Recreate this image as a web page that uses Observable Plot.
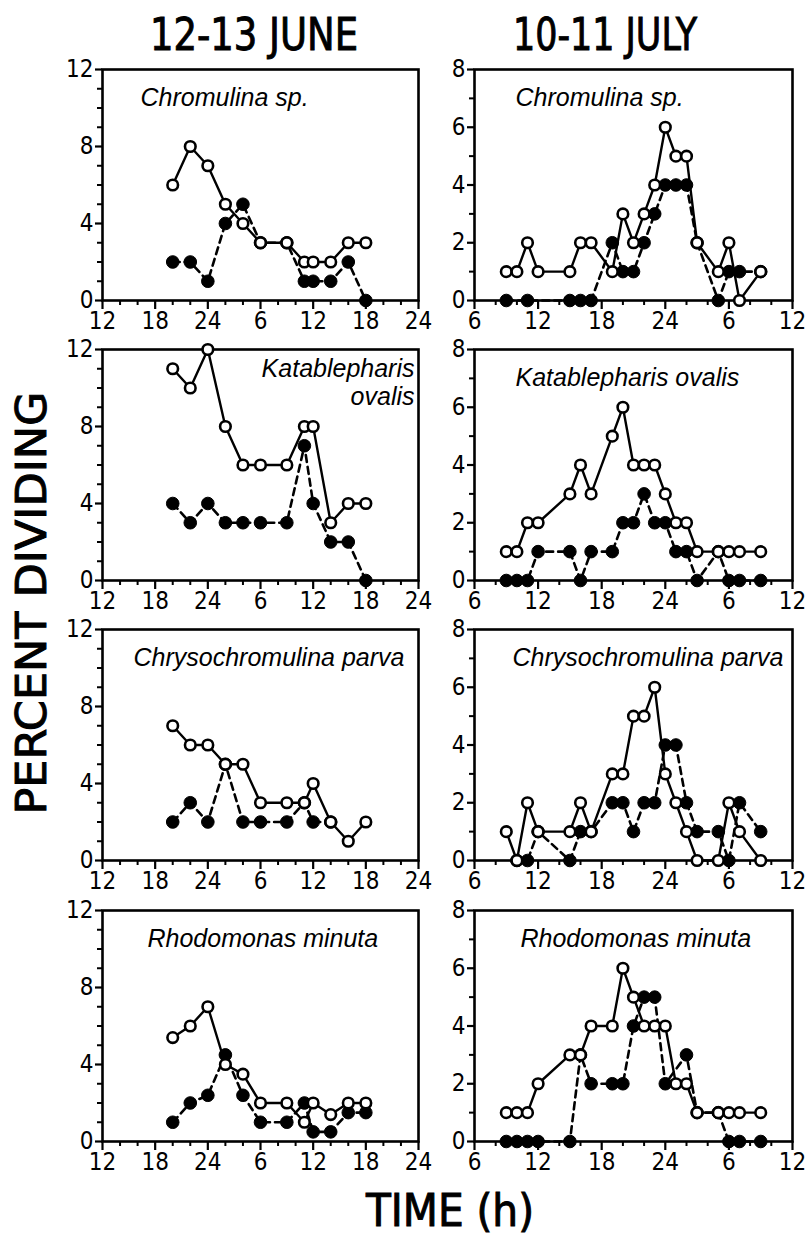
<!DOCTYPE html>
<html><head><meta charset="utf-8">
<script src="https://cdn.jsdelivr.net/npm/d3@7"></script>
<script src="https://cdn.jsdelivr.net/npm/@observablehq/plot@0.6"></script>
<style>
body{margin:0;background:#fff;}
#root{position:relative;width:811px;height:1236px;overflow:hidden;background:#fff;}
#root > svg{position:absolute;}
</style></head><body><div id="root"></div>
<script>
// ---------- DATA ----------
const columnTitles = ["12-13 JUNE", "10-11 JULY"];
const yTitle = "PERCENT DIVIDING";
const xTitle = "TIME (h)";

const juneHours = [20,22,24,26,28,30,33,35,36,38,40,42];
const julyHours = [9,10,11,12,15,16,17,19,20,21,22,23,24,25,26,27,29,30,31,33];

const juneSpecies = ["Chromulina sp.", "Katablepharis\novalis", "Chrysochromulina parva", "Rhodomonas minuta"];
const julySpecies = ["Chromulina sp.", "Katablepharis ovalis", "Chrysochromulina parva", "Rhodomonas minuta"];

// open circles (solid line) / filled circles (dashed line)
const chromJuneOpen   = [6,8,7,5,4,3,3,2,2,2,3,3];
const chromJuneFilled = [2,2,1,4,5,3,3,1,1,1,2,0];
const katJuneOpen     = [11,10,12,8,6,6,6,8,8,3,4,4];
const katJuneFilled   = [4,3,4,3,3,3,3,7,4,2,2,0];
const chryJuneOpen    = [7,6,6,5,5,3,3,3,4,2,1,2];
const chryJuneFilled  = [2,3,2,5,2,2,2,3,2,2,null,null];
const rhoJuneOpen     = [5.4,6,7,4,3.5,2,2,1,2,1.4,2,2];
const rhoJuneFilled   = [1,2,2.4,4.5,2.4,1,1,2,0.5,0.5,1.5,1.5];

const chromJulyOpen   = [1,1,2,1,1,2,2,1,3,2,3,4,6,5,5,2,1,2,0,1];
const chromJulyFilled = [0,null,0,null,0,0,0,2,1,1,2,3,4,4,4,2,0,1,1,1];
const katJulyOpen     = [1,1,2,2,3,4,3,5,6,4,4,4,3,2,2,1,1,1,1,1];
const katJulyFilled   = [0,0,0,1,1,0,1,1,2,2,3,2,2,1,1,0,1,0,0,0];
const chryJulyOpen    = [1,0,2,1,1,2,1,3,3,5,5,6,3,2,1,0,0,2,1,0];
const chryJulyFilled  = [null,0,0,1,0,1,1,2,2,1,2,2,4,4,2,1,1,0,2,1];
const rhoJulyOpen     = [1,1,1,2,3,3,4,4,6,5,4,4,4,2,2,1,1,1,1,1];
const rhoJulyFilled   = [0,0,0,0,0,3,2,2,2,4,5,5,2,null,3,1,1,0,0,0];

// tick values
const juneXDomain = [12,48];
const julyXDomain = [6,36];
const juneXMajor = [12,18,24,30,36,42,48];
const juneXMinor = [14,16,20,22,26,28,32,34,38,40,44,46];
const julyXMajor = [6,12,18,24,30,36];
const julyXMinor = [8,10,14,16,20,22,26,28,32,34];
const juneYDomain = [0,12];
const julyYDomain = [0,8];
const juneYLabels = [0,4,8,12];
const juneYMinor = [1,2,3,5,6,7,9,10,11];
const julyYLabels = [0,2,4,6,8];
const julyYMinor = [1,3,5,7];

// ---------- LAYOUT ----------
const layout = {
  frameX: [102, 474], frameW: [316, 318],
  frameY: [69, 349, 629, 910], frameH: 231,
  m: {top: 10, right: 14, bottom: 42, left: 44},
  labelDx: [[38, 0, 31, 45], [41, 41, 38, 46]]
};
const FONT = "'Liberation Sans Narrow','DejaVu Sans Condensed','Arial Narrow',sans-serif";
const fmtHour = h => String(h % 24 === 0 ? 24 : h % 24);

const columns = [
  {hours: juneHours, species: juneSpecies, xDomain: juneXDomain, xMajor: juneXMajor, xMinor: juneXMinor,
   yDomain: juneYDomain, yLabels: juneYLabels, yMinor: juneYMinor,
   series: [[chromJuneOpen, chromJuneFilled],[katJuneOpen, katJuneFilled],[chryJuneOpen, chryJuneFilled],[rhoJuneOpen, rhoJuneFilled]]},
  {hours: julyHours, species: julySpecies, xDomain: julyXDomain, xMajor: julyXMajor, xMinor: julyXMinor,
   yDomain: julyYDomain, yLabels: julyYLabels, yMinor: julyYMinor,
   series: [[chromJulyOpen, chromJulyFilled],[katJulyOpen, katJulyFilled],[chryJulyOpen, chryJulyFilled],[rhoJulyOpen, rhoJulyFilled]]}
];

const root = document.getElementById("root");

columns.forEach((c, col) => {
  c.series.forEach(([openV, filledV], row) => {
    const m = layout.m;
    const fw = layout.frameW[col], fh = layout.frameH;
    const openData = c.hours.map((h,i)=>({h, v: openV[i]})).filter(d => d.v != null);
    const filledData = c.hours.map((h,i)=>({h, v: filledV[i]})).filter(d => d.v != null);
    const label = c.species[row];
    const twoLine = label.includes("\n");
    const labelMark = twoLine
      ? Plot.text([label], {text: d => d, frameAnchor: "top-right", textAnchor: "end", lineAnchor: "top",
          dx: -4, dy: 8, fontSize: 25, fontStyle: "italic", lineHeight: 1.1,
          fontFamily: "'Liberation Sans',Arial,sans-serif", fill: "black"})
      : Plot.text([label], {text: d => d, frameAnchor: "top-left", textAnchor: "start", lineAnchor: "middle",
          dx: layout.labelDx[col][row], dy: 28, fontSize: 25, fontStyle: "italic",
          fontFamily: "'Liberation Sans',Arial,sans-serif", fill: "black"});
    const svg = Plot.plot({
      width: fw + m.left + m.right,
      height: fh + m.top + m.bottom,
      marginTop: m.top, marginRight: m.right, marginBottom: m.bottom, marginLeft: m.left,
      x: {domain: c.xDomain, label: null},
      y: {domain: c.yDomain, label: null},
      style: {fontFamily: FONT, fontSize: "24px", color: "black", background: "transparent", overflow: "visible"},
      marks: [
        Plot.axisX({ticks: c.xMajor, tickSize: 9, tickPadding: 2, tickFormat: fmtHour, strokeWidth: 2.2, fontSize: 24, label: null}),
        Plot.axisX({ticks: c.xMinor, tickSize: 5, tickFormat: () => "", strokeWidth: 2, label: null}),
        Plot.axisY({ticks: c.yLabels, tickSize: 7, tickPadding: 2, strokeWidth: 2.2, fontSize: 24, label: null}),
        Plot.axisY({ticks: c.yMinor, tickSize: 5, tickFormat: () => "", strokeWidth: 2, label: null}),
        Plot.frame({stroke: "black", strokeWidth: 2.6}),
        labelMark,
        Plot.line(filledData, {x: "h", y: "v", stroke: "black", strokeWidth: 2.6, strokeDasharray: "7,5"}),
        Plot.line(openData, {x: "h", y: "v", stroke: "black", strokeWidth: 2.4}),
        Plot.dot(filledData, {x: "h", y: "v", r: 6.3, fill: "black", stroke: "black", strokeWidth: 1}),
        Plot.dot(openData, {x: "h", y: "v", r: 5.3, fill: "white", stroke: "black", strokeWidth: 2.6})
      ]
    });
    svg.style.left = (layout.frameX[col] - m.left) + "px";
    svg.style.top = (layout.frameY[row] - m.top) + "px";
    root.appendChild(svg);
  });
});

// titles overlay
const ns = "http://www.w3.org/2000/svg";
const ov = document.createElementNS(ns, "svg");
ov.setAttribute("width", 811); ov.setAttribute("height", 1236);
ov.style.left = "0px"; ov.style.top = "0px"; ov.style.pointerEvents = "none";
function addText(str, x, y, size, len, rot) {
  const t = document.createElementNS(ns, "text");
  t.textContent = str;
  t.setAttribute("text-anchor", "middle");
  t.setAttribute("font-family", FONT);
  t.setAttribute("font-size", size);
  t.setAttribute("stroke", "black");
  t.setAttribute("stroke-width", "0.9");
  t.setAttribute("textLength", len);
  t.setAttribute("lengthAdjust", "spacingAndGlyphs");
  t.setAttribute("fill", "black");
  if (rot) { t.setAttribute("transform", `translate(${x},${y}) rotate(-90)`); }
  else { t.setAttribute("x", x); t.setAttribute("y", y); }
  ov.appendChild(t);
}
addText(columnTitles[0], 254, 50, 44, 208);
addText(columnTitles[1], 605, 50, 44, 184);
addText(yTitle, 46, 603, 42, 423, true);
addText(xTitle, 450, 1226, 44, 168);
root.appendChild(ov);
</script>
</body></html>
